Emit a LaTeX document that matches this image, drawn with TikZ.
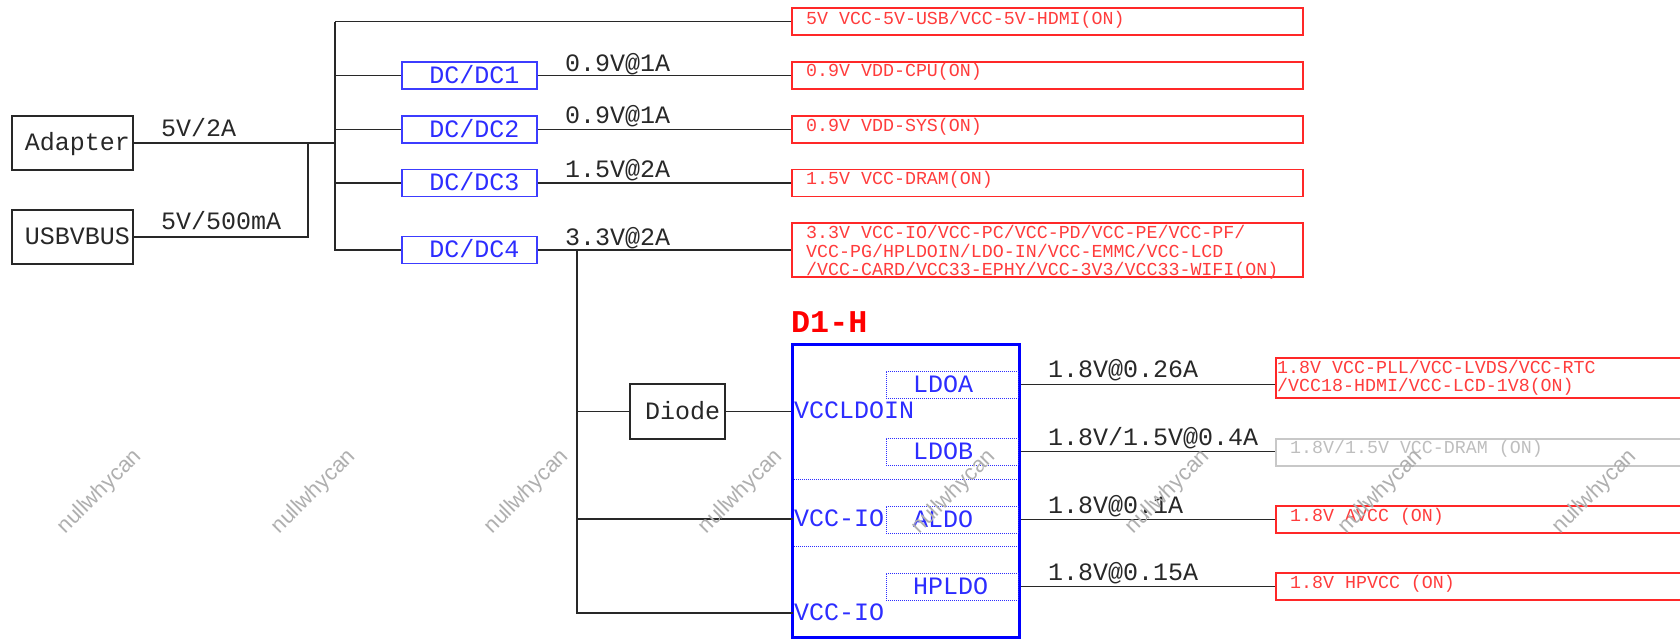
\documentclass[tikz,border=0pt]{standalone}
\usepackage{fontspec}
\newfontfamily\monofam{Liberation Mono}
\newfontfamily\wmfam{Liberation Sans}
\newcommand\fbig{\monofam\fontsize{25}{30}\selectfont}
\newcommand\fsmall{\monofam\fontsize{18.3}{22}\selectfont}
\newcommand\ftitle{\monofam\bfseries\fontsize{31.7}{36}\selectfont}
\newcommand\fwm{\wmfam\fontsize{22}{26}\selectfont}
\newcommand\lpad{\hspace*{10pt}}
\definecolor{inkc}{RGB}{40,40,40}
\definecolor{linec}{RGB}{40,40,40}
\definecolor{redt}{RGB}{255,60,60}
\definecolor{redb}{RGB}{255,40,40}
\definecolor{bluet}{RGB}{45,45,255}
\definecolor{blueb}{RGB}{60,60,255}
\definecolor{grayb}{RGB}{200,200,200}
\definecolor{grayt}{RGB}{190,190,190}
\definecolor{wmc}{RGB}{175,175,175}
\begin{document}
\begin{tikzpicture}[x=1pt,y=-1pt,
 wire/.style={draw=linec, line width=1.3pt},
 blackbox/.style={draw=linec, line width=1.4pt, inner sep=0pt, font=\fbig, text=inkc, text height=15pt, text depth=0pt, minimum width=121pt, minimum height=54pt},
 dcbox/.style={draw=blueb, line width=1.4pt, inner sep=0pt, minimum width=135pt, minimum height=27pt, font=\fbig, text=bluet, text height=15pt, text depth=0pt},
 outbox/.style={draw=redb, line width=1.4pt, inner sep=0pt},
 biglab/.style={font=\fbig, text=inkc, inner sep=0pt, text height=15pt, text depth=0pt, anchor=west},
 bluelab/.style={biglab, text=bluet},
 redlab/.style={font=\fsmall, text=redt, inner sep=0pt, text height=11pt, text depth=0pt, anchor=west},
 graylab/.style={redlab, text=grayt},
 ldobox/.style={draw=bluet, line width=0.9pt, dash pattern=on 1pt off 1pt, inner sep=0pt, minimum width=132pt, minimum height=27pt},
 sepline/.style={draw=bluet, line width=0.9pt, dash pattern=on 1pt off 1pt},
 wmark/.style={font=\fwm, text=wmc, rotate=45, inner sep=0pt}
]
\useasboundingbox (0,0) rectangle (1680,640);
\begin{scope}
\clip (0,0) rectangle (1680,640);

% sources
\node[blackbox] (adapter) at (72.5,143) {\lpad Adapter};
\node[blackbox] (usb) at (72.5,237) {\lpad USBVBUS};

% DC/DC
\node[dcbox] (dc1) at (469.5,75.5) {\lpad DC/DC1};
\node[dcbox] (dc2) at (469.5,129.5) {\lpad DC/DC2};
\node[dcbox] (dc3) at (469.5,183) {\lpad DC/DC3};
\node[dcbox] (dc4) at (469.5,250) {\lpad DC/DC4};

% output boxes (top)
\node[outbox, minimum width=511pt, minimum height=27pt] (r1) at (1047.5,21.5) {};
\node[outbox, minimum width=511pt, minimum height=27pt] (r2) at (1047.5,75.5) {};
\node[outbox, minimum width=511pt, minimum height=27pt] (r3) at (1047.5,129.5) {};
\node[outbox, minimum width=511pt, minimum height=27pt] (r4) at (1047.5,183) {};
\node[outbox, minimum width=511pt, minimum height=54pt] (r5) at (1047.5,250) {};

% diode and D1-H
\node[blackbox, minimum width=95pt, minimum height=55pt] (diode) at (677.5,411.5) {\lpad Diode};
\node[draw=blue, line width=3.2pt, inner sep=0pt, minimum width=226.8pt, minimum height=292.8pt] (d1h) at (906,491) {};
\node[font=\ftitle, text=red, anchor=west, inner sep=0pt, text height=19pt, text depth=0pt] (d1hlab) at (791,323) {D1-H};

\node[ldobox] (ldoa) at (952,384.5) {};
\node[ldobox] (ldob) at (952,451.5) {};
\node[ldobox] (aldo) at (952,519.5) {};
\node[ldobox] (hpldo) at (952,586.5) {};
\draw[sepline] (794,479) -- (1018,479);
\draw[sepline] (794,546) -- (1018,546);

\node[bluelab] (tldoa) at (913,384.5) {LDOA};
\node[bluelab] (tldob) at (913,451.5) {LDOB};
\node[bluelab] (taldo) at (913,519.5) {ALDO};
\node[bluelab] (thpldo) at (913,586.5) {HPLDO};
\node[bluelab] (tvccldo) at (794,411) {VCCLDOIN};
\node[bluelab] (tvio1) at (794,519) {VCC-IO};
\node[bluelab] (tvio2) at (794,613) {VCC-IO};

% output boxes (right)
\node[outbox, minimum width=414pt, minimum height=40pt] (o1) at (1483,378) {};
\node[outbox, draw=grayb, minimum width=414pt, minimum height=27pt] (o2) at (1483,452.5) {};
\node[outbox, minimum width=414pt, minimum height=27pt] (o3) at (1483,519.5) {};
\node[outbox, minimum width=414pt, minimum height=27pt] (o4) at (1483,586.5) {};

% wires
\coordinate (busT) at (335,21.5);
\coordinate (busB) at (335,251);
\coordinate (jx) at (308,143);
\draw[wire] (busT) -- (busB);
\draw[wire] (busT) -- (r1.west);
\draw[wire] (adapter.east) -- (adapter.east -| busT);
\draw[wire] (usb.east) -- (usb.east -| jx) -- (jx);
\foreach \d/\r in {dc1/r2, dc2/r3, dc3/r4, dc4/r5} {
  \draw[wire] (\d.west -| busT) -- (\d.west);
  \draw[wire] (\d.east) -- (\r.west);
}
\coordinate (v4) at (577,250);
\coordinate (pio1) at (792.6,519);
\coordinate (pio2) at (792.6,613);
\draw[wire] (v4) -- (v4 |- pio2) -- (pio2);
\draw[wire] (v4 |- pio1) -- (pio1);
\draw[wire] (v4 |- diode.west) -- (diode.west);
\draw[wire] (diode.east) -- (diode.east -| d1h.west);
\draw[wire] (ldoa.east -| d1h.east) -- (ldoa.east -| o1.west);
\draw[wire] (ldob.east -| d1h.east) -- (ldob.east -| o2.west);
\draw[wire] (aldo.east -| d1h.east) -- (aldo.east -| o3.west);
\draw[wire] (hpldo.east -| d1h.east) -- (hpldo.east -| o4.west);

% labels
\node[biglab] (l1) at (161,129) {5V/2A};
\node[biglab] (l2) at (161,222) {5V/500mA};
\node[biglab] (l3) at (565,63.5) {0.9V@1A};
\node[biglab] (l4) at (565,116) {0.9V@1A};
\node[biglab] (l5) at (565,170) {1.5V@2A};
\node[biglab] (l6) at (565,237.5) {3.3V@2A};
\node[biglab] (l7) at (1048,370) {1.8V@0.26A};
\node[biglab] (l8) at (1048,438) {1.8V/1.5V@0.4A};
\node[biglab] (l9) at (1048,506) {1.8V@0.1A};
\node[biglab] (l10) at (1048,573) {1.8V@0.15A};

\node[redlab] (t1) at (806,18.5) {5V VCC-5V-USB/VCC-5V-HDMI(ON)};
\node[redlab] (t2) at (806,71) {0.9V VDD-CPU(ON)};
\node[redlab] (t3) at (806,125.5) {0.9V VDD-SYS(ON)};
\node[redlab] (t4) at (806,179) {1.5V VCC-DRAM(ON)};
\node[redlab] (t5a) at (806,233) {3.3V VCC-IO/VCC-PC/VCC-PD/VCC-PE/VCC-PF/};
\node[redlab] (t5b) at (806,251.5) {VCC-PG/HPLDOIN/LDO-IN/VCC-EMMC/VCC-LCD};
\node[redlab] (t5c) at (806,270) {/VCC-CARD/VCC33-EPHY/VCC-3V3/VCC33-WIFI(ON)};
\node[redlab] (t6a) at (1277,368) {1.8V VCC-PLL/VCC-LVDS/VCC-RTC};
\node[redlab] (t6b) at (1277,386) {/VCC18-HDMI/VCC-LCD-1V8(ON)};
\node[graylab] (t7) at (1290,448) {1.8V/1.5V VCC-DRAM (ON)};
\node[redlab] (t8) at (1290,516) {1.8V AVCC (ON)};
\node[redlab] (t9) at (1290,583) {1.8V HPVCC (ON)};

% watermarks
\foreach \wx [count=\i] in {100,314,527,741,954,1168,1381,1595} {
  \node[wmark] (wm\i) at (\wx,492) {nullwhycan};
}
\end{scope}
\end{tikzpicture}
\end{document}
